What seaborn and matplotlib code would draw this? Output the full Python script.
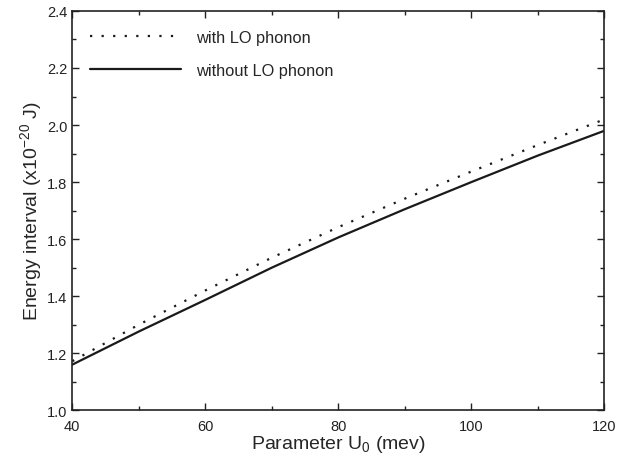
import numpy as np
import pandas as pd
import matplotlib.pyplot as plt
import seaborn as sns
from matplotlib.ticker import MultipleLocator

sns.set_style("ticks")
plt.rcParams['font.family'] = ['Liberation Sans', 'DejaVu Sans']
plt.rcParams['mathtext.fontset'] = 'custom'
plt.rcParams['mathtext.rm'] = 'Liberation Sans'
plt.rcParams['mathtext.it'] = 'Liberation Sans'

# values
u0 = [40, 50, 60, 70, 80, 90, 100, 110, 120]
with_lo = [1.172, 1.30, 1.42, 1.535, 1.642, 1.742, 1.837, 1.930, 2.020]
without_lo = [1.160, 1.276, 1.387, 1.500, 1.606, 1.705, 1.800, 1.893, 1.980]

df = pd.DataFrame({
    "u0": u0 * 2,
    "energy": with_lo + without_lo,
    "case": ["with LO phonon"] * len(u0) + ["without LO phonon"] * len(u0),
})

fig, ax = plt.subplots(figsize=(6.18, 4.6), dpi=100)
sns.lineplot(data=df, x="u0", y="energy", style="case",
             dashes={"with LO phonon": (1, 4.2), "without LO phonon": ""},
             color="#1a1a1a", linewidth=1.6, ax=ax)

ax.set_xlim(40, 120)
ax.set_ylim(1.0, 2.4)
ax.xaxis.set_major_locator(MultipleLocator(20))
ax.xaxis.set_minor_locator(MultipleLocator(10))
ax.yaxis.set_major_locator(MultipleLocator(0.2))
ax.yaxis.set_minor_locator(MultipleLocator(0.1))
ax.yaxis.set_major_formatter(plt.FormatStrFormatter('%.1f'))
ax.tick_params(which='both', direction='in', top=True, right=True,
               labelsize=10.5, width=1, colors='#222222')
ax.tick_params(axis='x', which='major', pad=6)
ax.tick_params(which='major', length=5)
ax.tick_params(which='minor', length=3)
for s in ax.spines.values():
    s.set_linewidth(1.2)
    s.set_color('#222222')

ax.set_xlabel("Parameter U$_0$ (mev)", fontsize=14, labelpad=0)
ax.set_ylabel("Energy interval (x10$^{-20}$ J)", fontsize=14, labelpad=2)

leg = ax.legend(loc='upper left', frameon=False, fontsize=11.8,
                handlelength=5.6, handletextpad=0.9, labelspacing=1.1,
                bbox_to_anchor=(0.005, 0.99))
for h in leg.get_lines():
    h.set_linewidth(1.6)

plt.subplots_adjust(left=0.117, right=0.978, bottom=0.106, top=0.974)
plt.savefig("out.png", dpi=100)
